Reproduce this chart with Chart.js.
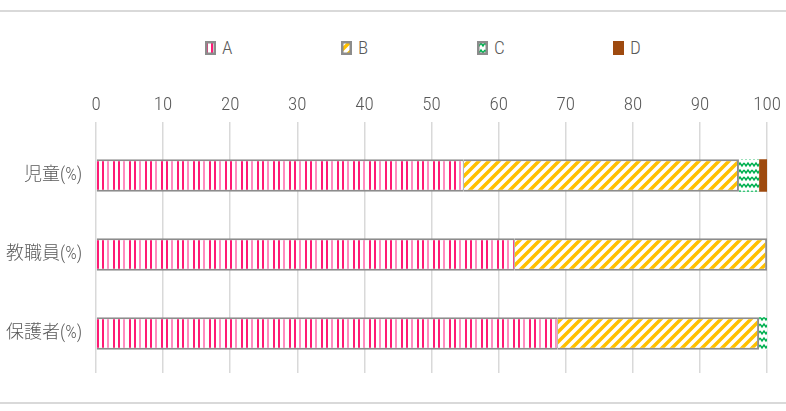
<!DOCTYPE html>
<html>
<head>
<meta charset="utf-8">
<script src="https://cdn.jsdelivr.net/npm/chart.js@4"></script>
<style>
  body { margin: 0; background: #fff; }
  #wrap { position: relative; width: 786px; height: 411px; overflow: hidden; }
  .rule { position: absolute; left: 0; width: 786px; height: 2px; background: #d9d9d9; }
  #legend { position: absolute; top: 36px; left: 205px; display: flex; }
  #legend .item { width: 136px; display: flex; align-items: center; font-family: "Roboto Condensed", sans-serif; font-weight: 300; font-size: 19px; color: #595959; }
  #legend canvas { margin-right: 6px; }
  #c { position: absolute; left: 0; top: 0; }
</style>
</head>
<body>
<div id="wrap">
  <div class="rule" style="top:10px"></div>
  <div class="rule" style="top:402px"></div>
  <div id="legend"></div>
  <canvas id="c" width="786" height="411"></canvas>
</div>
<script>
// data (percent)
const categories = ['児童(%)', '教職員(%)', '保護者(%)'];
const seriesNames = ['A', 'B', 'C', 'D'];
const seriesA = [54.8, 62.4, 68.8];
const seriesB = [41.0, 37.6, 30.0];
const seriesC = [3.0, 0, 1.2];
const seriesD = [1.2, 0, 0];
const xTicks = [0, 10, 20, 30, 40, 50, 60, 70, 80, 90, 100];

const canvas = document.getElementById('c');
const ctx = canvas.getContext('2d');

function tile(w, h, draw) {
  const t = document.createElement('canvas');
  t.width = w; t.height = h;
  const g = t.getContext('2d');
  g.fillStyle = '#fff';
  g.fillRect(0, 0, w, h);
  draw(g);
  return ctx.createPattern(t, 'repeat');
}

// vertical pink stripes
const patA = tile(16, 16, g => {
  g.fillStyle = '#ff1a75';
  g.fillRect(1, 0, 2, 16);
  g.fillRect(6, 0, 2, 16);
  g.fillStyle = '#ff8cc0';
  g.fillRect(11, 0, 2, 16);
});
// yellow diagonal stripes
const patB = tile(10, 10, g => {
  g.strokeStyle = '#ffc000';
  g.lineWidth = 3.5;
  g.beginPath();
  g.moveTo(-5, 5); g.lineTo(5, -5);
  g.moveTo(0, 10); g.lineTo(10, 0);
  g.moveTo(5, 15); g.lineTo(15, 5);
  g.stroke();
});
// green wave
const patC = tile(8, 7, g => {
  g.strokeStyle = '#00b050';
  g.lineWidth = 1.5;
  g.beginPath();
  g.moveTo(0, 2); g.lineTo(2, 5); g.lineTo(4, 2); g.lineTo(6, 5); g.lineTo(8, 2);
  g.stroke();
});
const colD = '#9e4a0f';

const fills = [patA, patB, patC, colD];
const values = [seriesA, seriesB, seriesC, seriesD];
const edge = '#8c8c8c';

const datasets = seriesNames.map((name, i) => ({
  label: name,
  data: values[i],
  backgroundColor: fills[i],
  borderColor: edge,
  borderWidth: i < 2 ? { top: 2, bottom: 2, left: 0, right: i === 0 ? 1 : 2 } : 0,
  borderSkipped: false,
  categoryPercentage: 1,
  barPercentage: 0.41
}));

new Chart(ctx, {
  type: 'bar',
  data: { labels: categories, datasets: datasets },
  options: {
    indexAxis: 'y',
    responsive: false,
    animation: false,
    layout: { padding: { left: 0, right: 18, top: 0, bottom: 38 } },
    plugins: { legend: { display: false }, tooltip: { enabled: false } },
    scales: {
      x: {
        position: 'top',
        stacked: true,
        min: 0,
        max: 100,
        afterBuildTicks: s => { s.ticks = xTicks.map(v => ({ value: v })); },
        afterFit: s => { s.height = 136; },
        grid: { color: '#d9d9d9', lineWidth: 1.5, tickLength: 14, tickColor: '#d9d9d9' },
        border: { display: false },
        ticks: {
          padding: 5,
          color: '#595959',
          font: { family: '"Roboto Condensed", sans-serif', weight: 300, size: 19 }
        }
      },
      y: {
        stacked: true,
        afterFit: s => { s.width = 96; },
        grid: { display: false, drawTicks: false },
        border: { display: false },
        ticks: {
          padding: 14,
          color: '#595959',
          font: { family: '"Roboto Condensed", "Noto Sans CJK JP", sans-serif', weight: 300, size: 18 }
        }
      }
    }
  }
});

// html legend with small pattern swatches
const legend = document.getElementById('legend');
seriesNames.forEach((name, i) => {
  const item = document.createElement('div');
  item.className = 'item';
  const sw = document.createElement('canvas');
  sw.width = 11; sw.height = 14;
  const g = sw.getContext('2d');
  g.fillStyle = fills[i];
  g.fillRect(0, 0, 11, 14);
  if (i < 3) {
    g.strokeStyle = edge;
    g.lineWidth = 2.5;
    g.strokeRect(1.25, 1.25, 8.5, 11.5);
  }
  const label = document.createElement('span');
  label.textContent = name;
  item.appendChild(sw);
  item.appendChild(label);
  legend.appendChild(item);
});
</script>
</body>
</html>
